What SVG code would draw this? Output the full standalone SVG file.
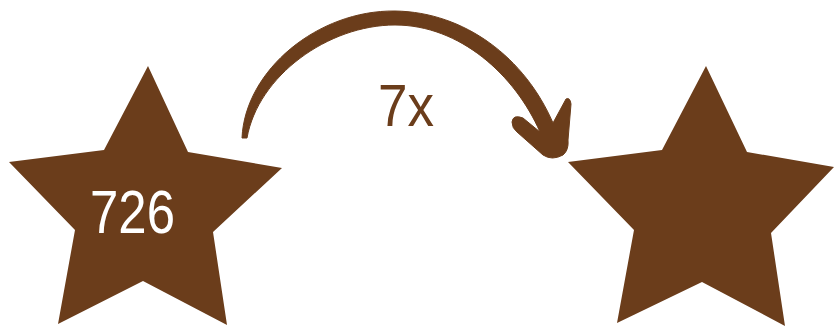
<svg xmlns="http://www.w3.org/2000/svg" width="834" height="327" viewBox="0 0 834 327">
<style>
.star{fill:#6b3d1b}
.lbl{font-family:"Liberation Sans",Arial,sans-serif}
</style>
<rect width="834" height="327" fill="#ffffff"/>
<g id="star-left">
<polygon class="star" points="148,66 188,152 282,168 213,232 227,325 143,281 58,324 75,230 9,162 104,150"/>
<text class="lbl" x="132.5" y="233" font-size="62" fill="#ffffff" text-anchor="middle" textLength="85" lengthAdjust="spacingAndGlyphs">726</text>
</g>
<g id="star-right">
<polygon class="star" points="706,66 747,152 834,167 771,233 785,326 702,282 617,323 634,230 568,162 662,150"/>
</g>
<g id="connectors">
<path fill="#6b3d1b" d="M242,138 C245,70 318,10 395,11 C465,12 525,58 553,123 L566,99 Q570,97 571,104 L568,140 Q569,150 563,155 Q552,161 543,155 L517,132 Q512,128 512,122 Q513,114 523,118 L540,132 C515,75 460,25 395,25 C328,25 258,76 247,138 Z" stroke="#6b3d1b" stroke-width="1" stroke-linejoin="round"/>
<text class="lbl" x="378" y="126" font-size="60" fill="#6b3d1b" textLength="56" lengthAdjust="spacingAndGlyphs">7x</text>
</g>
</svg>
